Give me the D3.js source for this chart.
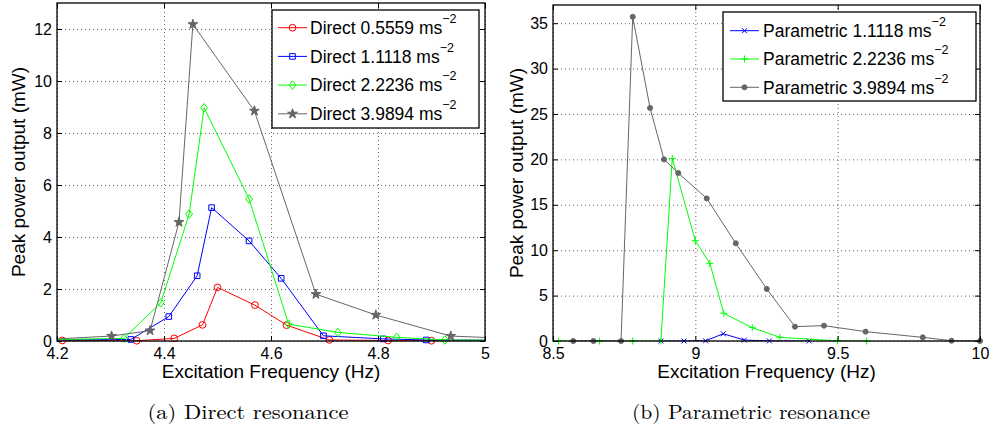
<!DOCTYPE html>
<html>
<head>
<meta charset="utf-8">
<script src="https://cdn.jsdelivr.net/npm/d3@7"></script>
<style>
body { margin: 0; background: #fff; }
text { font-family: "Liberation Sans", Arial, Helvetica, sans-serif; fill: #000; }
</style>
</head>
<body>
<svg id="chart" width="989" height="429"></svg>
<script>
// (a) direct resonance - frequency (Hz) and peak power (mW)
const freqDirect1 = [4.21, 4.349, 4.419, 4.472, 4.50, 4.570, 4.629, 4.709, 4.819, 4.90, 5.02];
const powerDirect1 = [0.02, 0.01, 0.1, 0.62, 2.06, 1.38, 0.61, 0.04, 0.02, 0.01, 0.0];
const freqDirect2 = [4.18, 4.338, 4.409, 4.462, 4.489, 4.559, 4.619, 4.698, 4.81, 4.89, 5.02];
const powerDirect2 = [0.04, 0.06, 0.94, 2.51, 5.13, 3.85, 2.41, 0.2, 0.08, 0.04, 0.03];
const freqDirect3 = [4.18, 4.325, 4.394, 4.447, 4.475, 4.559, 4.633, 4.725, 4.835, 4.925, 5.02];
const powerDirect3 = [0.05, 0.1, 1.47, 4.88, 8.97, 5.46, 0.65, 0.33, 0.14, 0.04, 0.03];
const freqDirect4 = [4.18, 4.302, 4.374, 4.428, 4.454, 4.569, 4.684, 4.796, 4.936, 5.02];
const powerDirect4 = [0.06, 0.19, 0.4, 4.57, 12.18, 8.85, 1.8, 1.0, 0.19, 0.12];

// (b) parametric resonance
const freqParam1 = [8.879, 8.96, 9.036, 9.098, 9.172, 9.26, 9.40];
const powerParam1 = [0, 0, 0.02, 0.8, 0.1, 0.01, 0];
const freqParam2 = [8.519, 8.663, 8.780, 8.879, 8.919, 9.0, 9.051, 9.10, 9.200, 9.297, 9.499, 9.602];
const powerParam2 = [0, 0, 0, 0, 20.1, 11.05, 8.55, 3.05, 1.47, 0.4, 0.02, 0];
const freqParam3 = [8.571, 8.642, 8.739, 8.780, 8.841, 8.890, 8.940, 9.040, 9.142, 9.251, 9.350, 9.452, 9.598, 9.799, 9.90, 10.0];
const powerParam3 = [0, 0, 0, 35.7, 25.66, 20.0, 18.5, 15.7, 10.76, 5.73, 1.58, 1.69, 1.03, 0.4, 0.03, 0];

const directLabels = ["Direct 0.5559", "Direct 1.1118", "Direct 2.2236", "Direct 3.9894"];
const paramLabels = ["Parametric 1.1118", "Parametric 2.2236", "Parametric 3.9894"];

const xTicksA = [4.2, 4.4, 4.6, 4.8, 5];
const yTicksA = [0, 2, 4, 6, 8, 10, 12];
const xTicksB = [8.5, 9, 9.5, 10];
const yTicksB = [0, 5, 10, 15, 20, 25, 30, 35];

const svg = d3.select("#chart");

// marker shapes (MATLAB style)
var markers = {
  circle: { d: d3.symbol().type(d3.symbolCircle).size(36)(), fill: false },
  square: { d: "M-2.8,-2.8H2.8V2.8H-2.8Z", fill: false },
  diamond: { d: "M0,-4.3L3.4,0L0,4.3L-3.4,0Z", fill: false },
  star: { d: d3.symbol().type(d3.symbolStar).size(30)(), fill: true },
  cross: { d: "M-2.5,-2.5L2.5,2.5M-2.5,2.5L2.5,-2.5", fill: false },
  plus: { d: "M-3.5,0H3.5M0,-3.5V3.5", fill: false },
  dot: { d: d3.symbol().type(d3.symbolCircle).size(20)(), fill: true }
};

function addMarker(sel, type, color) {
  var m = markers[type];
  return sel.append("path")
    .attr("d", m.d)
    .attr("fill", m.fill ? color : "none")
    .attr("stroke", color)
    .attr("stroke-width", 1);
}

function drawPanel(p) {
  var x = d3.scaleLinear().domain(p.xDomain).range([p.left, p.right]);
  var y = d3.scaleLinear().domain(p.yDomain).range([p.bottom, p.top]);
  var w = p.right - p.left, h = p.bottom - p.top;
  var g = svg.append("g");

  // clip paths: lines to the box, markers a bit wider
  g.append("clipPath").attr("id", p.id + "-clip")
    .append("rect").attr("x", p.left).attr("y", p.top).attr("width", w).attr("height", h);
  g.append("clipPath").attr("id", p.id + "-mclip")
    .append("rect").attr("x", p.left - 4).attr("y", p.top - 4).attr("width", w + 8).attr("height", h + 8);

  // dotted grid
  g.append("g").attr("transform", "translate(0," + p.bottom + ")")
    .call(d3.axisBottom(x).tickValues(p.xTicks).tickSize(-h).tickFormat(""))
    .call(a => a.select(".domain").remove())
    .selectAll("line").attr("stroke", "#666").attr("stroke-dasharray", "1,3");
  g.append("g").attr("transform", "translate(" + p.left + ",0)")
    .call(d3.axisLeft(y).tickValues(p.yTicks).tickSize(-w).tickFormat(""))
    .call(a => a.select(".domain").remove())
    .selectAll("line").attr("stroke", "#666").attr("stroke-dasharray", "1,3");

  // series
  var line = d3.line().x(d => x(d[0])).y(d => y(d[1]));
  p.series.forEach(function(s) {
    var pts = d3.zip(s.freq, s.power);
    g.append("path")
      .datum(pts)
      .attr("clip-path", "url(#" + p.id + "-clip)")
      .attr("fill", "none")
      .attr("stroke", s.color)
      .attr("stroke-width", 1)
      .attr("d", line);
    var mg = g.append("g").attr("clip-path", "url(#" + p.id + "-mclip)");
    pts.forEach(function(d) {
      addMarker(mg, s.marker, s.color)
        .attr("transform", "translate(" + x(d[0]) + "," + y(d[1]) + ")");
    });
  });

  // axes with inward ticks on all four sides
  var bottomAxis = g.append("g").attr("transform", "translate(0," + p.bottom + ")")
    .call(d3.axisBottom(x).tickValues(p.xTicks).tickSize(-5).tickPadding(7).tickFormat(d => String(d)));
  var leftAxis = g.append("g").attr("transform", "translate(" + p.left + ",0)")
    .call(d3.axisLeft(y).tickValues(p.yTicks).tickSize(-5).tickPadding(5).tickFormat(d => String(d)));
  g.append("g").attr("transform", "translate(0," + p.top + ")")
    .call(d3.axisTop(x).tickValues(p.xTicks).tickSize(-5).tickFormat(""));
  g.append("g").attr("transform", "translate(" + p.right + ",0)")
    .call(d3.axisRight(y).tickValues(p.yTicks).tickSize(-5).tickFormat(""));
  g.selectAll(".domain").remove();
  g.selectAll(".tick line").filter(function() { return !this.getAttribute("stroke-dasharray"); })
    .attr("stroke", "#000");
  g.selectAll(".tick text").attr("font-size", "16px").attr("font-family", "Liberation Sans, Arial, sans-serif").attr("fill", "#000");

  g.append("rect")
    .attr("x", p.left).attr("y", p.top).attr("width", w).attr("height", h)
    .attr("fill", "none").attr("stroke", "#000").attr("stroke-width", 1.3);

  // axis labels
  g.append("text")
    .attr("x", (p.left + p.right) / 2)
    .attr("y", 378)
    .attr("text-anchor", "middle")
    .style("font-size", "19px")
    .text("Excitation Frequency (Hz)");
  g.append("text")
    .attr("transform", "translate(" + p.ylabX + "," + ((p.top + p.bottom) / 2) + ") rotate(-90)")
    .attr("text-anchor", "middle")
    .style("font-size", "19px")
    .text("Peak power output (mW)");

  // legend
  var lg = g.append("g").attr("transform", "translate(" + p.legend.x + "," + p.legend.y + ")");
  lg.append("rect")
    .attr("width", p.legend.w).attr("height", p.legend.h)
    .attr("fill", "#fff").attr("stroke", "#000").attr("stroke-width", 1.3);
  p.series.forEach(function(s, i) {
    var cy = p.legend.first + i * p.legend.step;
    lg.append("line")
      .attr("x1", p.legend.lx1).attr("x2", p.legend.lx2)
      .attr("y1", cy).attr("y2", cy)
      .attr("stroke", s.color).attr("stroke-width", 1);
    addMarker(lg, s.marker, s.color)
      .attr("transform", "translate(" + ((p.legend.lx1 + p.legend.lx2) / 2) + "," + cy + ")");
    var t = lg.append("text")
      .attr("x", p.legend.tx)
      .attr("y", cy + 6.3)
      .style("font-size", "17.5px");
    t.append("tspan").text(s.label + " ms");
    t.append("tspan").attr("dy", -11).style("font-size", "12.5px").text("\u22122");
  });

  // caption
  svg.append("text")
    .attr("x", p.caption.x)
    .attr("y", 419)
    .attr("text-anchor", "middle")
    .attr("textLength", p.caption.len)
    .attr("lengthAdjust", "spacingAndGlyphs")
    .style("font-family", "'Latin Modern Roman', 'CMU Serif', 'Liberation Serif', serif")
    .style("font-size", "20px")
    .text(p.caption.text);
}

drawPanel({
  id: "pa",
  left: 57, right: 485, top: 3, bottom: 341,
  xDomain: [4.2, 5], yDomain: [0, 13],
  xTicks: xTicksA, yTicks: yTicksA,
  ylabX: 25,
  series: [
    { freq: freqDirect1, power: powerDirect1, color: "#ff0000", marker: "circle", label: directLabels[0] },
    { freq: freqDirect2, power: powerDirect2, color: "#0000ff", marker: "square", label: directLabels[1] },
    { freq: freqDirect3, power: powerDirect3, color: "#00ff00", marker: "diamond", label: directLabels[2] },
    { freq: freqDirect4, power: powerDirect4, color: "#666666", marker: "star", label: directLabels[3] }
  ],
  legend: { x: 272, y: 10, w: 207, h: 118, first: 17.7, step: 28.7, lx1: 6, lx2: 35, tx: 38 },
  caption: { x: 248, len: 201, text: "(a) Direct resonance" }
});

drawPanel({
  id: "pb",
  left: 553, right: 980, top: 5, bottom: 341,
  xDomain: [8.5, 10], yDomain: [0, 37],
  xTicks: xTicksB, yTicks: yTicksB,
  ylabX: 523,
  series: [
    { freq: freqParam1, power: powerParam1, color: "#0000ff", marker: "cross", label: paramLabels[0] },
    { freq: freqParam2, power: powerParam2, color: "#00ff00", marker: "plus", label: paramLabels[1] },
    { freq: freqParam3, power: powerParam3, color: "#666666", marker: "dot", label: paramLabels[2] }
  ],
  legend: { x: 723, y: 12, w: 253, h: 89, first: 18.7, step: 28.3, lx1: 7, lx2: 36, tx: 40 },
  caption: { x: 751, len: 238, text: "(b) Parametric resonance" }
});
</script>
</body>
</html>
